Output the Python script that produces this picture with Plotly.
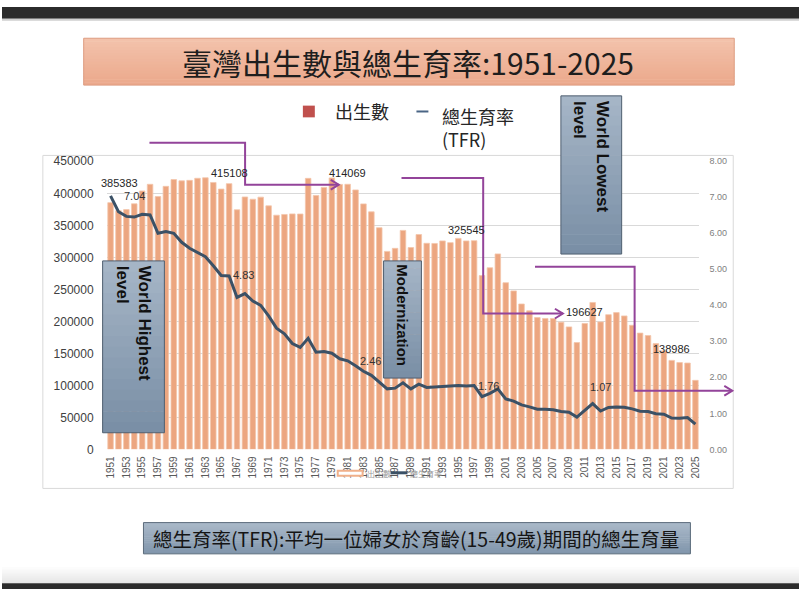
import plotly.graph_objects as go

# ---------------- data ----------------
years = list(range(1951, 2026))
births = [385383, 372905, 374536, 383574, 403683, 414036, 394870, 410885, 421458, 419442,
          420254, 423469, 424250, 416926, 406604, 415108, 374282, 394260, 390728, 394015,
          380424, 365749, 366942, 367823, 367647, 423356, 396632, 409203, 424034, 413881,
          414069, 405263, 383439, 371008, 346208, 309230, 314024, 342031, 315299, 335618,
          321932, 321632, 325613, 322938, 329581, 325545, 326002, 271450, 283661, 305312,
          260354, 247530, 227070, 216419, 205854, 204459, 204414, 198733, 191310, 166886,
          196627, 229481, 199113, 210383, 213598, 208440, 193844, 181601, 177767, 165249,
          153820, 138986, 135571, 134856, 107812]
tfr = [7.04, 6.60, 6.47, 6.45, 6.53, 6.51, 6.00, 6.05, 6.00, 5.75,
       5.585, 5.465, 5.35, 5.10, 4.83, 4.815, 4.22, 4.325, 4.12, 4.00,
       3.705, 3.365, 3.21, 2.94, 2.83, 3.085, 2.70, 2.715, 2.67, 2.515,
       2.46, 2.32, 2.17, 2.055, 1.88, 1.68, 1.70, 1.85, 1.68, 1.81,
       1.72, 1.73, 1.76, 1.755, 1.775, 1.76, 1.77, 1.465, 1.555, 1.68,
       1.40, 1.34, 1.235, 1.18, 1.115, 1.115, 1.10, 1.05, 1.03, 0.895,
       1.07, 1.27, 1.065, 1.165, 1.175, 1.17, 1.125, 1.06, 1.05, 0.99,
       0.975, 0.87, 0.865, 0.885, 0.70]
birth_label_years = [1951, 1966, 1981, 1996, 2011, 2022]
tfr_label_years = [1951, 1965, 1981, 1996, 2011]
left_ticks = list(range(0, 450001, 50000))
right_ticks = [0, 1, 2, 3, 4, 5, 6, 7, 8]
year_ticks = years[::2]

title_text = "臺灣出生數與總生育率:1951-2025"
series_bar = "出生數"
series_line = "總生育率"
footnote = "總生育率(TFR):平均一位婦女於育齡(15-49歲)期間的總生育量"

# ---------------- helpers ----------------
W, H = 800, 596
CJK = "Noto Sans CJK TC"
LAT = "Liberation Sans"


def px(x):
    return x / W


def py(y):
    return 1 - y / H


shapes = []
annotations = []


def rect(x0, y0, x1, y1, fill, line=None, lw=1, layer="above"):
    shapes.append(dict(type="rect", xref="paper", yref="paper", x0=px(x0), x1=px(x1),
                       y0=py(y1), y1=py(y0), fillcolor=fill, layer=layer,
                       line=dict(color=line if line else "rgba(0,0,0,0)", width=lw if line else 0)))


def hexrgb(c):
    c = c.lstrip("#")
    return tuple(int(c[i:i + 2], 16) for i in (0, 2, 4))


def grad_rect(x0, y0, x1, y1, ctop, cbot, border=None, n=16, lw=1):
    a, b = hexrgb(ctop), hexrgb(cbot)
    h = (y1 - y0) / n
    for i in range(n):
        t = i / (n - 1)
        col = "rgb(%d,%d,%d)" % tuple(round(a[k] + (b[k] - a[k]) * t) for k in range(3))
        rect(x0, y0 + i * h, x1, min(y1, y0 + (i + 1) * h + 0.6), col)
    if border:
        rect(x0, y0, x1, y1, "rgba(0,0,0,0)", border, lw)


def path(points, color, width=2):
    d = "M " + " L ".join("%f,%f" % (px(x), py(y)) for x, y in points)
    shapes.append(dict(type="path", xref="paper", yref="paper", path=d, layer="above",
                       line=dict(color=color, width=width)))


def text(x, y, s, size, color="#222", font=CJK, xa="center", ya="middle", angle=0, align="center", bold=False):
    if bold:
        s = "<b>" + s.replace("<br>", "</b><br><b>") + "</b>"
    annotations.append(dict(x=px(x), y=py(y), xref="paper", yref="paper", text=s, showarrow=False,
                            xanchor=xa, yanchor=ya, textangle=angle, align=align,
                            font=dict(size=size, color=color, family=font)))


# ---------------- slide decoration ----------------
rect(0, 0, 800, 12, "#2b2b2b", layer="below")
rect(0, 12, 800, 14, "#cfcfcf", layer="below")
grad_rect(0, 572, 800, 590, "#ffffff", "#e6e6e6")
rect(0, 590, 800, 596, "#2b2b2b")

# chart frame
rect(41, 152, 734, 493, "rgba(0,0,0,0)", "#d9d9d9", 1, layer="below")

# title box
grad_rect(82, 32, 735, 80, "#f3c2ab", "#eba98c", border="#dd9c80")
text(408, 56, title_text, 30, "#1e1e1e")

# legend (top)
rect(302, 101, 314, 113, "#c0504d")
text(332, 107, series_bar, 18, "#262626", xa="left")
path([(416, 107), (428, 107)], "#4a6585", 2)
text(440, 96, series_line + "<br>(TFR)", 18, "#262626", xa="left", ya="top", align="left")

# purple arrows
PUR = "#93449a"


def arrow(points):
    path(points, PUR, 2)
    (xe, ye) = points[-1]
    path([(xe - 8, ye - 5), (xe, ye), (xe - 8, ye + 5)], PUR, 2)


arrow([(148, 139), (244, 139), (244, 182), (338, 182)])
arrow([(401, 175), (483, 175), (483, 314), (563, 314)])
arrow([(535, 266), (635, 266), (635, 393), (733, 393)])

# annotation boxes
BTOP, BBOT, BBORD = "#a5b5c6", "#7a8fa6", "#4f5f70"
grad_rect(101, 260, 163, 436, BTOP, BBOT, border=BBORD)
text(132, 263, "World Highest<br>level", 17, "#111", font=LAT, ya="top", angle=90, align="left", bold=True)
grad_rect(383, 260, 421, 380, BTOP, BBOT, border=BBORD)
text(402, 262, "Modernization", 15, "#111", font=LAT, ya="top", angle=90, align="left", bold=True)
grad_rect(561, 91, 622, 253, BTOP, BBOT, border=BBORD)
text(591.5, 94, "World Lowest<br>level", 17, "#111", font=LAT, ya="top", angle=90, align="left", bold=True)

# footnote box
grad_rect(142, 528, 691, 560, "#a9b8c8", "#8196ac", border="#5b6b7b")
text(416, 544, footnote, 19.5, "#151515")

# tiny in-chart legend (partly hidden by year labels)
rect(337, 475, 362, 480, "#ffffff", "#f0b08a", 2)
text(364, 477.5, series_bar, 8, "#9a9a9a", xa="left")
path([(390, 477), (407, 477)], "#3b5166", 3)
text(408, 477.5, series_line, 8, "#9a9a9a", xa="left")

# ---------------- data labels ----------------
b_shift = {1951: (8.5, 20)}
for yr in birth_label_years:
    v = births[years.index(yr)]
    xs, ys = b_shift.get(yr, (0, 11))
    annotations.append(dict(x=yr, y=v, xref="x", yref="y", text=str(v), showarrow=False,
                            xanchor="center", yanchor="middle", xshift=xs, yshift=ys,
                            font=dict(size=11, color="#262626", family=LAT)))
t_shift = {1951: (11, 0), 2011: (3, 24)}
for yr in tfr_label_years:
    v = tfr[years.index(yr)]
    xs, ys = t_shift.get(yr, (10, 0))
    annotations.append(dict(x=yr, y=v, xref="x", yref="y2", text="%.2f" % v, showarrow=False,
                            xanchor="left", yanchor="middle", xshift=xs, yshift=ys,
                            font=dict(size=11, color="#333333", family=LAT)))

# ---------------- traces ----------------
fig = go.Figure()
fig.add_trace(go.Bar(x=years, y=births, name=series_bar, yaxis="y",
                     marker=dict(color="#eca680", line=dict(color="#f4c7ac", width=0.8))))
fig.add_trace(go.Scatter(x=years, y=tfr, name=series_line + "(TFR)", yaxis="y2", mode="lines",
                         line=dict(color="#3b5166", width=3)))

ydom = [py(453), py(158)]
fig.update_layout(
    width=W, height=H, margin=dict(l=0, r=0, t=0, b=0),
    paper_bgcolor="white", plot_bgcolor="rgba(0,0,0,0)",
    showlegend=False, bargap=0.3,
    xaxis=dict(domain=[px(105), px(700)], range=[1950.5, 2025.5], tickmode="array",
               tickvals=year_ticks, ticktext=[str(y) for y in year_ticks], tickangle=-90,
               tickfont=dict(size=10, color="#595959", family=LAT), showgrid=False,
               zeroline=False, showline=False, ticks="", ticklabelstandoff=4),
    yaxis=dict(domain=ydom, range=[0, 450000], tickvals=left_ticks,
               ticktext=[str(v) for v in left_ticks],
               tickfont=dict(size=12, color="#404040", family=LAT),
               showgrid=True, gridcolor="#d9d9d9", gridwidth=1, zeroline=False,
               showline=False, ticks="", ticklabelstandoff=12),
    yaxis2=dict(domain=ydom, range=[0, 8], overlaying="y", side="right", tickvals=right_ticks,
                ticktext=["%.2f" % v for v in right_ticks],
                tickfont=dict(size=9, color="#808080", family=LAT),
                showgrid=False, zeroline=False, showline=False, ticks="", ticklabelstandoff=9),
    shapes=shapes, annotations=annotations,
)

fig.write_html("out.html")
